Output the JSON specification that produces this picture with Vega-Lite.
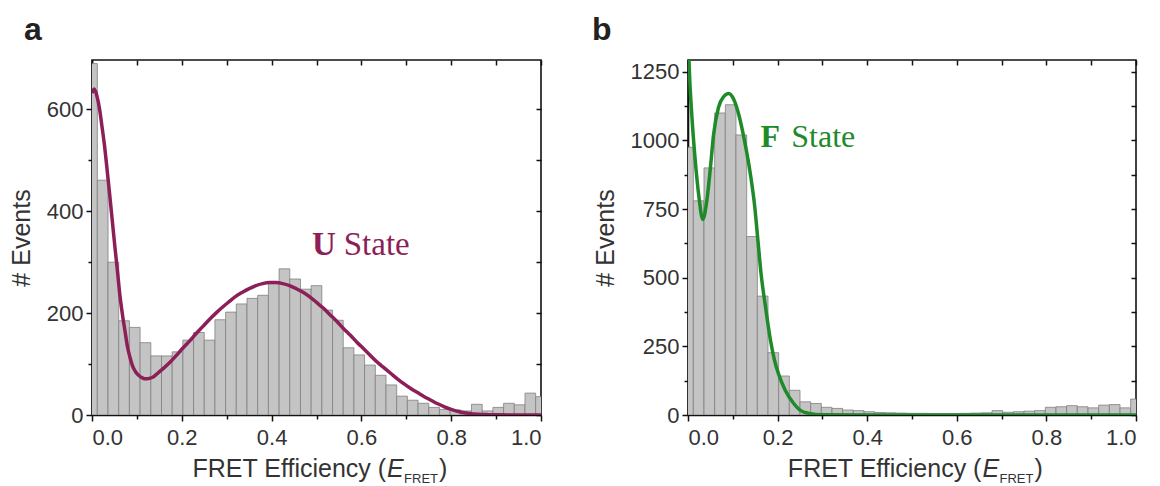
{
  "$schema": "https://vega.github.io/schema/vega-lite/v6.json",
  "background": "white",
  "padding": {"left": 8, "top": 13, "right": 5, "bottom": 0},
  "spacing": 48,
  "config": {
    "view": {"stroke": "#111111", "strokeWidth": 1.6},
    "axis": {"labelFont": "Liberation Sans", "labelFontSize": 22, "labelColor": "#333333", "titleFont": "Liberation Sans", "titleFontSize": 25, "titleFontWeight": "normal", "titleColor": "#333333", "tickColor": "#111111", "domainColor": "#111111", "grid": false, "tickWidth": 1.5, "domainWidth": 1.6}
  },
  "datasets": {
    "hist_a": [
      {"bin_start": -0.0119, "bin_end": 0.0119, "events": 690},
      {"bin_start": 0.0119, "bin_end": 0.0357, "events": 461},
      {"bin_start": 0.0357, "bin_end": 0.0595, "events": 300},
      {"bin_start": 0.0595, "bin_end": 0.0833, "events": 185},
      {"bin_start": 0.0833, "bin_end": 0.1071, "events": 172},
      {"bin_start": 0.1071, "bin_end": 0.1310, "events": 142},
      {"bin_start": 0.1310, "bin_end": 0.1548, "events": 116},
      {"bin_start": 0.1548, "bin_end": 0.1786, "events": 116},
      {"bin_start": 0.1786, "bin_end": 0.2024, "events": 124},
      {"bin_start": 0.2024, "bin_end": 0.2262, "events": 147},
      {"bin_start": 0.2262, "bin_end": 0.2500, "events": 162},
      {"bin_start": 0.2500, "bin_end": 0.2738, "events": 147},
      {"bin_start": 0.2738, "bin_end": 0.2976, "events": 187},
      {"bin_start": 0.2976, "bin_end": 0.3214, "events": 202},
      {"bin_start": 0.3214, "bin_end": 0.3452, "events": 218},
      {"bin_start": 0.3452, "bin_end": 0.3690, "events": 229},
      {"bin_start": 0.3690, "bin_end": 0.3929, "events": 235},
      {"bin_start": 0.3929, "bin_end": 0.4167, "events": 258},
      {"bin_start": 0.4167, "bin_end": 0.4405, "events": 287},
      {"bin_start": 0.4405, "bin_end": 0.4643, "events": 267},
      {"bin_start": 0.4643, "bin_end": 0.4881, "events": 247},
      {"bin_start": 0.4881, "bin_end": 0.5119, "events": 254},
      {"bin_start": 0.5119, "bin_end": 0.5357, "events": 206},
      {"bin_start": 0.5357, "bin_end": 0.5595, "events": 186},
      {"bin_start": 0.5595, "bin_end": 0.5833, "events": 132},
      {"bin_start": 0.5833, "bin_end": 0.6071, "events": 118},
      {"bin_start": 0.6071, "bin_end": 0.6310, "events": 98},
      {"bin_start": 0.6310, "bin_end": 0.6548, "events": 78},
      {"bin_start": 0.6548, "bin_end": 0.6786, "events": 59},
      {"bin_start": 0.6786, "bin_end": 0.7024, "events": 37},
      {"bin_start": 0.7024, "bin_end": 0.7262, "events": 29},
      {"bin_start": 0.7262, "bin_end": 0.7500, "events": 23},
      {"bin_start": 0.7500, "bin_end": 0.7738, "events": 15},
      {"bin_start": 0.7738, "bin_end": 0.7976, "events": 11},
      {"bin_start": 0.7976, "bin_end": 0.8214, "events": 10},
      {"bin_start": 0.8214, "bin_end": 0.8452, "events": 8},
      {"bin_start": 0.8452, "bin_end": 0.8690, "events": 21},
      {"bin_start": 0.8690, "bin_end": 0.8929, "events": 8},
      {"bin_start": 0.8929, "bin_end": 0.9167, "events": 15},
      {"bin_start": 0.9167, "bin_end": 0.9405, "events": 23},
      {"bin_start": 0.9405, "bin_end": 0.9643, "events": 20},
      {"bin_start": 0.9643, "bin_end": 0.9881, "events": 43},
      {"bin_start": 0.9881, "bin_end": 1.0119, "events": 36}
    ],
    "hist_b": [
      {"bin_start": -0.0119, "bin_end": 0.0119, "events": 975},
      {"bin_start": 0.0119, "bin_end": 0.0357, "events": 780},
      {"bin_start": 0.0357, "bin_end": 0.0595, "events": 900},
      {"bin_start": 0.0595, "bin_end": 0.0833, "events": 1100},
      {"bin_start": 0.0833, "bin_end": 0.1071, "events": 1130},
      {"bin_start": 0.1071, "bin_end": 0.1310, "events": 1020},
      {"bin_start": 0.1310, "bin_end": 0.1548, "events": 650},
      {"bin_start": 0.1548, "bin_end": 0.1786, "events": 433},
      {"bin_start": 0.1786, "bin_end": 0.2024, "events": 227},
      {"bin_start": 0.2024, "bin_end": 0.2262, "events": 142},
      {"bin_start": 0.2262, "bin_end": 0.2500, "events": 90},
      {"bin_start": 0.2500, "bin_end": 0.2738, "events": 48},
      {"bin_start": 0.2738, "bin_end": 0.2976, "events": 42},
      {"bin_start": 0.2976, "bin_end": 0.3214, "events": 28},
      {"bin_start": 0.3214, "bin_end": 0.3452, "events": 24},
      {"bin_start": 0.3452, "bin_end": 0.3690, "events": 18},
      {"bin_start": 0.3690, "bin_end": 0.3929, "events": 16},
      {"bin_start": 0.3929, "bin_end": 0.4167, "events": 12},
      {"bin_start": 0.4167, "bin_end": 0.4405, "events": 9},
      {"bin_start": 0.4405, "bin_end": 0.4643, "events": 8},
      {"bin_start": 0.4643, "bin_end": 0.4881, "events": 7},
      {"bin_start": 0.4881, "bin_end": 0.5119, "events": 6},
      {"bin_start": 0.5119, "bin_end": 0.5357, "events": 6},
      {"bin_start": 0.5357, "bin_end": 0.5595, "events": 5},
      {"bin_start": 0.5595, "bin_end": 0.5833, "events": 5},
      {"bin_start": 0.5833, "bin_end": 0.6071, "events": 5},
      {"bin_start": 0.6071, "bin_end": 0.6310, "events": 6},
      {"bin_start": 0.6310, "bin_end": 0.6548, "events": 7},
      {"bin_start": 0.6548, "bin_end": 0.6786, "events": 8},
      {"bin_start": 0.6786, "bin_end": 0.7024, "events": 16},
      {"bin_start": 0.7024, "bin_end": 0.7262, "events": 10},
      {"bin_start": 0.7262, "bin_end": 0.7500, "events": 12},
      {"bin_start": 0.7500, "bin_end": 0.7738, "events": 14},
      {"bin_start": 0.7738, "bin_end": 0.7976, "events": 16},
      {"bin_start": 0.7976, "bin_end": 0.8214, "events": 28},
      {"bin_start": 0.8214, "bin_end": 0.8452, "events": 30},
      {"bin_start": 0.8452, "bin_end": 0.8690, "events": 34},
      {"bin_start": 0.8690, "bin_end": 0.8929, "events": 30},
      {"bin_start": 0.8929, "bin_end": 0.9167, "events": 26},
      {"bin_start": 0.9167, "bin_end": 0.9405, "events": 36},
      {"bin_start": 0.9405, "bin_end": 0.9643, "events": 38},
      {"bin_start": 0.9643, "bin_end": 0.9881, "events": 26},
      {"bin_start": 0.9881, "bin_end": 1.0119, "events": 58}
    ],
    "fit_a": [
      {"efret": 0.0, "events": 632}, {"efret": 0.005, "events": 640}, {"efret": 0.011, "events": 626},
      {"efret": 0.017, "events": 600}, {"efret": 0.022, "events": 568}, {"efret": 0.028, "events": 528},
      {"efret": 0.033, "events": 487}, {"efret": 0.039, "events": 436}, {"efret": 0.045, "events": 383},
      {"efret": 0.051, "events": 330}, {"efret": 0.057, "events": 280}, {"efret": 0.062, "events": 236},
      {"efret": 0.068, "events": 196}, {"efret": 0.074, "events": 162}, {"efret": 0.079, "events": 134},
      {"efret": 0.085, "events": 112}, {"efret": 0.09, "events": 97}, {"efret": 0.097, "events": 85},
      {"efret": 0.105, "events": 77}, {"efret": 0.112, "events": 73}, {"efret": 0.12, "events": 71},
      {"efret": 0.128, "events": 72}, {"efret": 0.135, "events": 74}, {"efret": 0.145, "events": 81},
      {"efret": 0.157, "events": 90}, {"efret": 0.172, "events": 102}, {"efret": 0.187, "events": 116},
      {"efret": 0.202, "events": 131}, {"efret": 0.217, "events": 145}, {"efret": 0.232, "events": 160},
      {"efret": 0.247, "events": 174}, {"efret": 0.262, "events": 188}, {"efret": 0.276, "events": 200},
      {"efret": 0.291, "events": 212}, {"efret": 0.306, "events": 223}, {"efret": 0.32, "events": 233},
      {"efret": 0.335, "events": 241}, {"efret": 0.35, "events": 248}, {"efret": 0.365, "events": 254},
      {"efret": 0.38, "events": 258}, {"efret": 0.395, "events": 260}, {"efret": 0.41, "events": 260},
      {"efret": 0.425, "events": 258}, {"efret": 0.44, "events": 254}, {"efret": 0.455, "events": 248},
      {"efret": 0.47, "events": 241}, {"efret": 0.485, "events": 232}, {"efret": 0.5, "events": 221},
      {"efret": 0.515, "events": 210}, {"efret": 0.53, "events": 197}, {"efret": 0.545, "events": 184},
      {"efret": 0.56, "events": 170}, {"efret": 0.575, "events": 157}, {"efret": 0.59, "events": 143},
      {"efret": 0.605, "events": 130}, {"efret": 0.62, "events": 117}, {"efret": 0.635, "events": 104},
      {"efret": 0.65, "events": 93}, {"efret": 0.665, "events": 82}, {"efret": 0.68, "events": 71},
      {"efret": 0.695, "events": 61}, {"efret": 0.71, "events": 52}, {"efret": 0.725, "events": 44},
      {"efret": 0.74, "events": 36}, {"efret": 0.755, "events": 29}, {"efret": 0.77, "events": 22},
      {"efret": 0.785, "events": 16}, {"efret": 0.8, "events": 11}, {"efret": 0.82, "events": 6},
      {"efret": 0.84, "events": 3}, {"efret": 0.86, "events": 1.5}, {"efret": 0.88, "events": 0.8},
      {"efret": 0.9, "events": 0.4}, {"efret": 0.95, "events": 0.1}, {"efret": 1.0, "events": 0}
    ],
    "fit_b": [
      {"efret": 0.0, "events": 1420}, {"efret": 0.002, "events": 1300}, {"efret": 0.009, "events": 1080},
      {"efret": 0.016, "events": 930}, {"efret": 0.024, "events": 800}, {"efret": 0.033, "events": 712},
      {"efret": 0.042, "events": 780}, {"efret": 0.05, "events": 900}, {"efret": 0.057, "events": 1020},
      {"efret": 0.068, "events": 1120}, {"efret": 0.08, "events": 1160}, {"efret": 0.091, "events": 1171},
      {"efret": 0.102, "events": 1150}, {"efret": 0.114, "events": 1090}, {"efret": 0.126, "events": 1000},
      {"efret": 0.139, "events": 880}, {"efret": 0.149, "events": 758}, {"efret": 0.156, "events": 637},
      {"efret": 0.163, "events": 516}, {"efret": 0.173, "events": 394}, {"efret": 0.184, "events": 273},
      {"efret": 0.193, "events": 200}, {"efret": 0.202, "events": 150}, {"efret": 0.217, "events": 90},
      {"efret": 0.236, "events": 42}, {"efret": 0.25, "events": 18}, {"efret": 0.27, "events": 6},
      {"efret": 0.3, "events": 1}, {"efret": 0.4, "events": 0}, {"efret": 1.0, "events": 0}
    ]
  },
  "hconcat": [
    {
      "width": 449,
      "height": 355,
      "title": {"text": "a", "anchor": "start", "frame": "group", "font": "Liberation Sans", "fontSize": 32, "fontWeight": "bold", "color": "#222222", "dx": -68, "offset": -13, "baseline": "alphabetic"},
      "resolve": {"axis": {"x": "independent", "y": "independent"}},
      "layer": [
        {
          "data": {"name": "hist_a"},
          "mark": {"type": "bar", "fill": "#c4c4c4", "stroke": "#808080", "strokeWidth": 0.8, "clip": true},
          "encoding": {
            "x": {"field": "bin_start", "type": "quantitative", "scale": {"domain": [0, 1], "nice": false, "zero": false}, "axis": {"orient": "bottom", "values": [0, 0.2, 0.4, 0.6, 0.8, 1], "format": ".1f", "title": null, "tickSize": 6, "labelPadding": 6}},
            "x2": {"field": "bin_end"},
            "y": {"field": "events", "type": "quantitative", "scale": {"domain": [0, 697], "nice": false}, "axis": {"orient": "left", "values": [0, 200, 400, 600], "format": "d", "title": "# Events", "tickSize": 6, "labelPadding": 3, "titlePadding": 12}},
            "y2": {"datum": 0}
          }
        },
        {
          "data": {"name": "fit_a"},
          "mark": {"type": "line", "color": "#8c1f57", "strokeWidth": 3.5, "clip": true, "interpolate": "monotone"},
          "encoding": {
            "x": {"field": "efret", "type": "quantitative", "scale": {"domain": [0, 1], "nice": false, "zero": false}, "axis": {"orient": "bottom", "values": [0.1, 0.3, 0.5, 0.7, 0.9], "labels": false, "domain": false, "title": null, "tickSize": 4}},
            "y": {"field": "events", "type": "quantitative", "scale": {"domain": [0, 697], "nice": false}, "axis": {"orient": "left", "values": [100, 300, 500], "labels": false, "domain": false, "title": null, "tickSize": 4}}
          }
        },
        {
          "data": {"name": "fit_a"},
          "mark": {"type": "line", "opacity": 0, "clip": true},
          "encoding": {
            "x": {"field": "efret", "type": "quantitative", "scale": {"domain": [0, 1], "nice": false, "zero": false}, "axis": {"orient": "top", "values": [0, 0.1, 0.2, 0.3, 0.4, 0.5, 0.6, 0.7, 0.8, 0.9, 1], "labels": false, "domain": false, "title": null, "tickSize": 5, "offset": -5}},
            "y": {"field": "events", "type": "quantitative", "scale": {"domain": [0, 697], "nice": false}, "axis": {"orient": "right", "values": [0, 100, 200, 300, 400, 500, 600], "labels": false, "domain": false, "title": null, "tickSize": 5, "offset": -5}}
          }
        },
        {
          "data": {"values": [{}]},
          "mark": {"type": "text", "font": "Liberation Serif", "fontSize": 33, "fontWeight": "bold", "color": "#8c1f57", "align": "left", "baseline": "alphabetic"},
          "encoding": {
            "x": {"datum": 0.49, "type": "quantitative", "scale": {"domain": [0, 1], "nice": false, "zero": false}, "axis": null},
            "y": {"datum": 314, "type": "quantitative", "scale": {"domain": [0, 697], "nice": false}, "axis": null},
            "text": {"value": "U"}
          }
        },
        {
          "data": {"values": [{}]},
          "mark": {"type": "text", "font": "Liberation Serif", "fontSize": 33, "color": "#8c1f57", "align": "left", "baseline": "alphabetic"},
          "encoding": {
            "x": {"datum": 0.5606, "type": "quantitative", "scale": {"domain": [0, 1], "nice": false, "zero": false}, "axis": null},
            "y": {"datum": 314, "type": "quantitative", "scale": {"domain": [0, 697], "nice": false}, "axis": null},
            "text": {"value": "State"}
          }
        },
        {
          "data": {"values": [{}]},
          "mark": {"type": "text", "font": "Liberation Sans", "fontSize": 25, "color": "#333333", "align": "right", "baseline": "alphabetic"},
          "encoding": {
            "x": {"datum": 0.655, "type": "quantitative", "scale": {"domain": [0, 1], "nice": false, "zero": false}, "axis": null},
            "y": {"datum": -121.7, "type": "quantitative", "scale": {"domain": [0, 697], "nice": false}, "axis": null},
            "text": {"value": "FRET Efficiency ("}
          }
        },
        {
          "data": {"values": [{}]},
          "mark": {"type": "text", "font": "Liberation Sans", "fontSize": 25, "fontStyle": "italic", "color": "#333333", "align": "left", "baseline": "alphabetic", "dx": 1},
          "encoding": {
            "x": {"datum": 0.655, "type": "quantitative", "scale": {"domain": [0, 1], "nice": false, "zero": false}, "axis": null},
            "y": {"datum": -121.7, "type": "quantitative", "scale": {"domain": [0, 697], "nice": false}, "axis": null},
            "text": {"value": "E"}
          }
        },
        {
          "data": {"values": [{}]},
          "mark": {"type": "text", "font": "Liberation Sans", "fontSize": 13, "color": "#333333", "align": "left", "baseline": "alphabetic", "dx": 18, "dy": 6},
          "encoding": {
            "x": {"datum": 0.655, "type": "quantitative", "scale": {"domain": [0, 1], "nice": false, "zero": false}, "axis": null},
            "y": {"datum": -121.7, "type": "quantitative", "scale": {"domain": [0, 697], "nice": false}, "axis": null},
            "text": {"value": "FRET"}
          }
        },
        {
          "data": {"values": [{}]},
          "mark": {"type": "text", "font": "Liberation Sans", "fontSize": 25, "color": "#333333", "align": "left", "baseline": "alphabetic", "dx": 53},
          "encoding": {
            "x": {"datum": 0.655, "type": "quantitative", "scale": {"domain": [0, 1], "nice": false, "zero": false}, "axis": null},
            "y": {"datum": -121.7, "type": "quantitative", "scale": {"domain": [0, 697], "nice": false}, "axis": null},
            "text": {"value": ")"}
          }
        }
      ]
    },
    {
      "width": 448,
      "height": 355,
      "title": {"text": "b", "anchor": "start", "frame": "group", "font": "Liberation Sans", "fontSize": 32, "fontWeight": "bold", "color": "#222222", "dx": -96, "offset": -13, "baseline": "alphabetic"},
      "resolve": {"axis": {"x": "independent", "y": "independent"}},
      "layer": [
        {
          "data": {"name": "hist_b"},
          "mark": {"type": "bar", "fill": "#c4c4c4", "stroke": "#808080", "strokeWidth": 0.8, "clip": true},
          "encoding": {
            "x": {"field": "bin_start", "type": "quantitative", "scale": {"domain": [0, 1], "nice": false, "zero": false}, "axis": {"orient": "bottom", "values": [0, 0.2, 0.4, 0.6, 0.8, 1], "format": ".1f", "title": null, "tickSize": 6, "labelPadding": 6}},
            "x2": {"field": "bin_end"},
            "y": {"field": "events", "type": "quantitative", "scale": {"domain": [0, 1293], "nice": false}, "axis": {"orient": "left", "values": [0, 250, 500, 750, 1000, 1250], "format": "d", "title": "# Events", "tickSize": 6, "labelPadding": 3, "titlePadding": 12}},
            "y2": {"datum": 0}
          }
        },
        {
          "data": {"name": "fit_b"},
          "mark": {"type": "line", "color": "#1f8a2a", "strokeWidth": 3.5, "clip": true, "interpolate": "monotone"},
          "encoding": {
            "x": {"field": "efret", "type": "quantitative", "scale": {"domain": [0, 1], "nice": false, "zero": false}, "axis": {"orient": "bottom", "values": [0.1, 0.3, 0.5, 0.7, 0.9], "labels": false, "domain": false, "title": null, "tickSize": 4}},
            "y": {"field": "events", "type": "quantitative", "scale": {"domain": [0, 1293], "nice": false}, "axis": {"orient": "left", "values": [125, 375, 625, 875, 1125], "labels": false, "domain": false, "title": null, "tickSize": 4}}
          }
        },
        {
          "data": {"name": "fit_b"},
          "mark": {"type": "line", "opacity": 0, "clip": true},
          "encoding": {
            "x": {"field": "efret", "type": "quantitative", "scale": {"domain": [0, 1], "nice": false, "zero": false}, "axis": {"orient": "top", "values": [0, 0.1, 0.2, 0.3, 0.4, 0.5, 0.6, 0.7, 0.8, 0.9, 1], "labels": false, "domain": false, "title": null, "tickSize": 5, "offset": -5}},
            "y": {"field": "events", "type": "quantitative", "scale": {"domain": [0, 1293], "nice": false}, "axis": {"orient": "right", "values": [0, 125, 250, 375, 500, 625, 750, 875, 1000, 1125, 1250], "labels": false, "domain": false, "title": null, "tickSize": 5, "offset": -5}}
          }
        },
        {
          "data": {"values": [{}]},
          "mark": {"type": "text", "font": "Liberation Serif", "fontSize": 32, "fontWeight": "bold", "color": "#1f8a2a", "align": "left", "baseline": "alphabetic"},
          "encoding": {
            "x": {"datum": 0.162, "type": "quantitative", "scale": {"domain": [0, 1], "nice": false, "zero": false}, "axis": null},
            "y": {"datum": 977, "type": "quantitative", "scale": {"domain": [0, 1293], "nice": false}, "axis": null},
            "text": {"value": "F"}
          }
        },
        {
          "data": {"values": [{}]},
          "mark": {"type": "text", "font": "Liberation Serif", "fontSize": 32, "color": "#1f8a2a", "align": "left", "baseline": "alphabetic"},
          "encoding": {
            "x": {"datum": 0.2306, "type": "quantitative", "scale": {"domain": [0, 1], "nice": false, "zero": false}, "axis": null},
            "y": {"datum": 977, "type": "quantitative", "scale": {"domain": [0, 1293], "nice": false}, "axis": null},
            "text": {"value": "State"}
          }
        },
        {
          "data": {"values": [{}]},
          "mark": {"type": "text", "font": "Liberation Sans", "fontSize": 25, "color": "#333333", "align": "right", "baseline": "alphabetic"},
          "encoding": {
            "x": {"datum": 0.655, "type": "quantitative", "scale": {"domain": [0, 1], "nice": false, "zero": false}, "axis": null},
            "y": {"datum": -225.8, "type": "quantitative", "scale": {"domain": [0, 1293], "nice": false}, "axis": null},
            "text": {"value": "FRET Efficiency ("}
          }
        },
        {
          "data": {"values": [{}]},
          "mark": {"type": "text", "font": "Liberation Sans", "fontSize": 25, "fontStyle": "italic", "color": "#333333", "align": "left", "baseline": "alphabetic", "dx": 1},
          "encoding": {
            "x": {"datum": 0.655, "type": "quantitative", "scale": {"domain": [0, 1], "nice": false, "zero": false}, "axis": null},
            "y": {"datum": -225.8, "type": "quantitative", "scale": {"domain": [0, 1293], "nice": false}, "axis": null},
            "text": {"value": "E"}
          }
        },
        {
          "data": {"values": [{}]},
          "mark": {"type": "text", "font": "Liberation Sans", "fontSize": 13, "color": "#333333", "align": "left", "baseline": "alphabetic", "dx": 18, "dy": 6},
          "encoding": {
            "x": {"datum": 0.655, "type": "quantitative", "scale": {"domain": [0, 1], "nice": false, "zero": false}, "axis": null},
            "y": {"datum": -225.8, "type": "quantitative", "scale": {"domain": [0, 1293], "nice": false}, "axis": null},
            "text": {"value": "FRET"}
          }
        },
        {
          "data": {"values": [{}]},
          "mark": {"type": "text", "font": "Liberation Sans", "fontSize": 25, "color": "#333333", "align": "left", "baseline": "alphabetic", "dx": 53},
          "encoding": {
            "x": {"datum": 0.655, "type": "quantitative", "scale": {"domain": [0, 1], "nice": false, "zero": false}, "axis": null},
            "y": {"datum": -225.8, "type": "quantitative", "scale": {"domain": [0, 1293], "nice": false}, "axis": null},
            "text": {"value": ")"}
          }
        }
      ]
    }
  ]
}
